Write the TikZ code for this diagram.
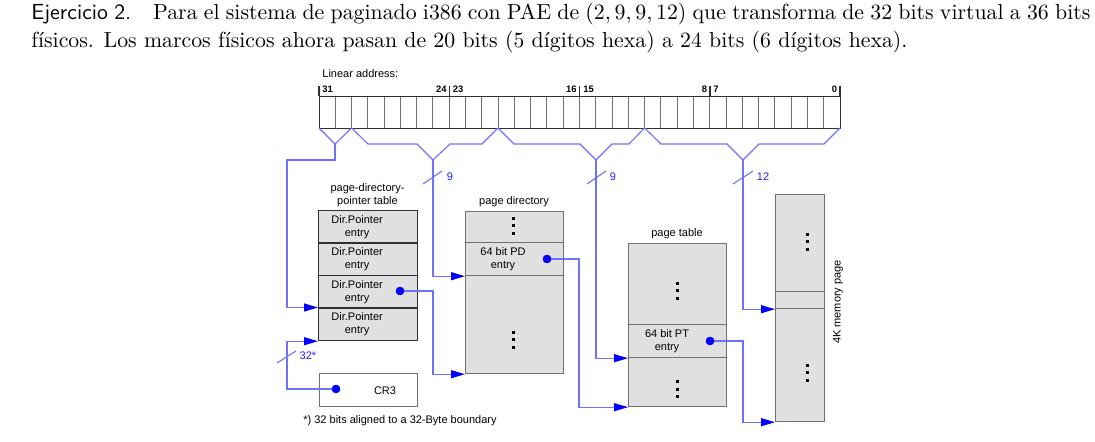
\documentclass[tikz,border=0pt]{standalone}
\usepackage{fontspec}
\newfontfamily\dg{Liberation Sans}
\usetikzlibrary{arrows.meta}
\definecolor{boxfill}{HTML}{E0E0E0}
\definecolor{boxline}{HTML}{707070}
\definecolor{darkline}{HTML}{303030}
\definecolor{wire}{HTML}{7070FF}
\definecolor{tipblue}{HTML}{0000FF}
\definecolor{lblblue}{HTML}{2020FF}
\newcommand\vdts[2]{\foreach \k in {-1,0,1}{\fill ({#1-1.5},{#2+\k*7.7-1.5}) rectangle ++(3,3);}}
\begin{document}
\begin{tikzpicture}[x=0.5pt,y=-0.5pt,
  row/.style={draw=boxline, fill=boxfill, line width=0.6pt, minimum width=49pt, inner sep=0pt, anchor=north west},
  prow/.style={row, draw=darkline, minimum width=49.5pt, minimum height=16.25pt},
  dtext/.style={font=\dg\fontsize{5.5}{6.6}\selectfont, align=center, inner sep=0pt},
  bitlbl/.style={font=\dg\bfseries\fontsize{4.7}{5}\selectfont, inner sep=0pt},
  blbl/.style={font=\dg\fontsize{5.5}{6.6}\selectfont, text=lblblue, inner sep=0pt},
  wirel/.style={draw=wire, line width=0.55pt},
  conn/.style={wirel, -{Triangle[length=7pt,width=4pt,color=tipblue]}},
  dot/.style={circle, fill=tipblue, inner sep=0pt, minimum size=4.2pt},
]
\useasboundingbox (0,0) rectangle (1095,442);

% caption
\node[anchor=base west, inner sep=0pt, font=\fontsize{10.9}{14}\selectfont] (cap1) at (31,20)
  {\makebox[529.5pt][s]{\textsf{Ejercicio 2.}\quad Para el sistema de paginado i386 con PAE de $(2,9,9,12)$ que transforma de 32 bits virtual a 36 bits}};
\node[anchor=base west, inner sep=0pt, font=\fontsize{10.9}{14}\selectfont] (cap2) at (31,48)
  {físicos. Los marcos físicos ahora pasan de 20 bits (5 dígitos hexa) a 24 bits (6 dígitos hexa).};

% linear address register
\node[dtext, anchor=west] (la) at (322,74) {Linear address:};
\foreach \i in {1,...,31}{\draw[boxline, line width=0.5pt] ({319+\i*16.28},96) -- ({319+\i*16.28},128);}
\node[draw=darkline, line width=0.6pt, anchor=north west, inner sep=0pt, minimum width=260.5pt, minimum height=16pt] (reg) at (319,96) {};
\foreach \xx in {319,449.3,579.6,709.9,840}{\draw[darkline, line width=0.6pt] (\xx,86) -- (\xx,96);}
\node[bitlbl, anchor=base west] (b31) at (322,93) {31};
\node[bitlbl, anchor=base east] (b24) at (447,93) {24};
\node[bitlbl, anchor=base west] (b23) at (452.5,93) {23};
\node[bitlbl, anchor=base east] (b16) at (577,93) {16};
\node[bitlbl, anchor=base west] (b15) at (583,93) {15};
\node[bitlbl, anchor=base east] (b8) at (707.5,93) {8};
\node[bitlbl, anchor=base west] (b7) at (713,93) {7};
\node[bitlbl, anchor=base east] (b0) at (837.5,93) {0};

% braces
\coordinate (t1) at (335,144);
\coordinate (t2) at (433,160);
\coordinate (t3) at (596,160);
\coordinate (t4) at (743,160);
\draw[wirel] (319,128) -- (t1) -- (351.6,128);
\draw[wirel] (351.6,128) -- (368,144) -- (417,144) -- (t2) -- (450,144) -- (482,144) -- (498,128);
\draw[wirel] (498,128) -- (514,144) -- (580,144) -- (t3) -- (612,144) -- (629,144) -- (644.6,128);
\draw[wirel] (644.6,128) -- (661,144) -- (727,144) -- (t4) -- (759,144) -- (824,144) -- (840,128);

% page-directory-pointer table
\node[dtext] (pdptt) at (367.5,195) {page-directory-\\pointer table};
\node[prow] (pdpt1) at (318,210) {};
\node[prow] (pdpt2) at (318,242.5) {};
\node[prow] (pdpt3) at (318,275) {};
\node[prow] (pdpt4) at (318,307.5) {};
\foreach \r in {1,2,3,4}{\node[dtext] (pdptx\r) at ([xshift=-5.5pt]pdpt\r.center) {Dir.Pointer\\entry};}
\node[dot] (d1) at (400,291) {};

% CR3
\node[row, fill=white, minimum height=16.5pt] (cr3) at (319,373) {};
\node[dtext] (cr3t) at (385,391) {CR3};
\node[dot] (d0) at (336,389) {};
\node[dtext] (foot) at (400,421) {*) 32 bits aligned to a 32-Byte boundary};

% page directory
\node[dtext] (pdt) at (514,202) {page directory};
\node[row, minimum height=15.5pt] (pd1) at (465,211) {};
\node[row, minimum height=16.5pt] (pd2) at (465,242) {};
\node[row, minimum height=49pt] (pd3) at (465,275) {};
\node[dtext] (pdx) at (503,259) {64 bit PD\\entry};
\node[dot] (d2) at (547,259) {};
\vdts{513}{226}
\vdts{513}{340}

% page table
\node[dtext] (ptt) at (677,234) {page table};
\node[row, minimum height=40.5pt] (pt1) at (628,243) {};
\node[row, minimum height=16.5pt] (pt2) at (628,324) {};
\node[row, minimum height=24.5pt] (pt3) at (628,357) {};
\node[dtext] (ptx) at (667,341) {64 bit PT\\entry};
\node[dot] (d3) at (710,341) {};
\vdts{677}{291}
\vdts{677}{389}

% 4K memory page
\node[row, minimum width=24.5pt, minimum height=48.5pt] (pg1) at (775,194) {};
\node[row, minimum width=24.5pt, minimum height=8.5pt] (pg2) at (775,291) {};
\node[row, minimum width=24.5pt, minimum height=56.5pt] (pg3) at (775,308) {};
\node[dtext, rotate=90] (pgt) at (838,302) {4K memory page};
\vdts{807}{242}
\vdts{807}{373}

% connectors from linear address
\coordinate (c1) at (287,160);
\draw[conn] (t1) |- (c1) |- (pdpt4.north west);
\draw[conn] (t2) |- (pd2.south west);
\draw[conn] (t3) |- (pt2.south west);
\draw[conn] (t4) |- (pg2.south west);

% slashes and widths
\draw[wirel] (423,184) -- (442,171);
\node[blbl] (w1) at (450,177) {9};
\draw[wirel] (587,184) -- (606,171);
\node[blbl] (w2) at (613,177) {9};
\draw[wirel] (733,184) -- (753,171);
\node[blbl] (w3) at (763,177) {12};

% pointer connectors
\coordinate (k0) at (287,389);
\draw[conn] (d0.center) -- (k0) |- (pdpt4.south west);
\draw[wirel] (277,363) -- (296,351);
\node[blbl] (w0) at (308,356) {32*};
\coordinate (k1) at (433,291);
\draw[conn] (d1.center) -- (k1) |- (pd3.south west);
\coordinate (k2) at (579,259);
\draw[conn] (d2.center) -- (k2) |- (pt3.south west);
\coordinate (k3) at (743,341);
\draw[conn] (d3.center) -- (k3) |- (pg3.south west);
\node[dot] at (d0) {};
\node[dot] at (d1) {};
\node[dot] at (d2) {};
\node[dot] at (d3) {};
\end{tikzpicture}
\end{document}
